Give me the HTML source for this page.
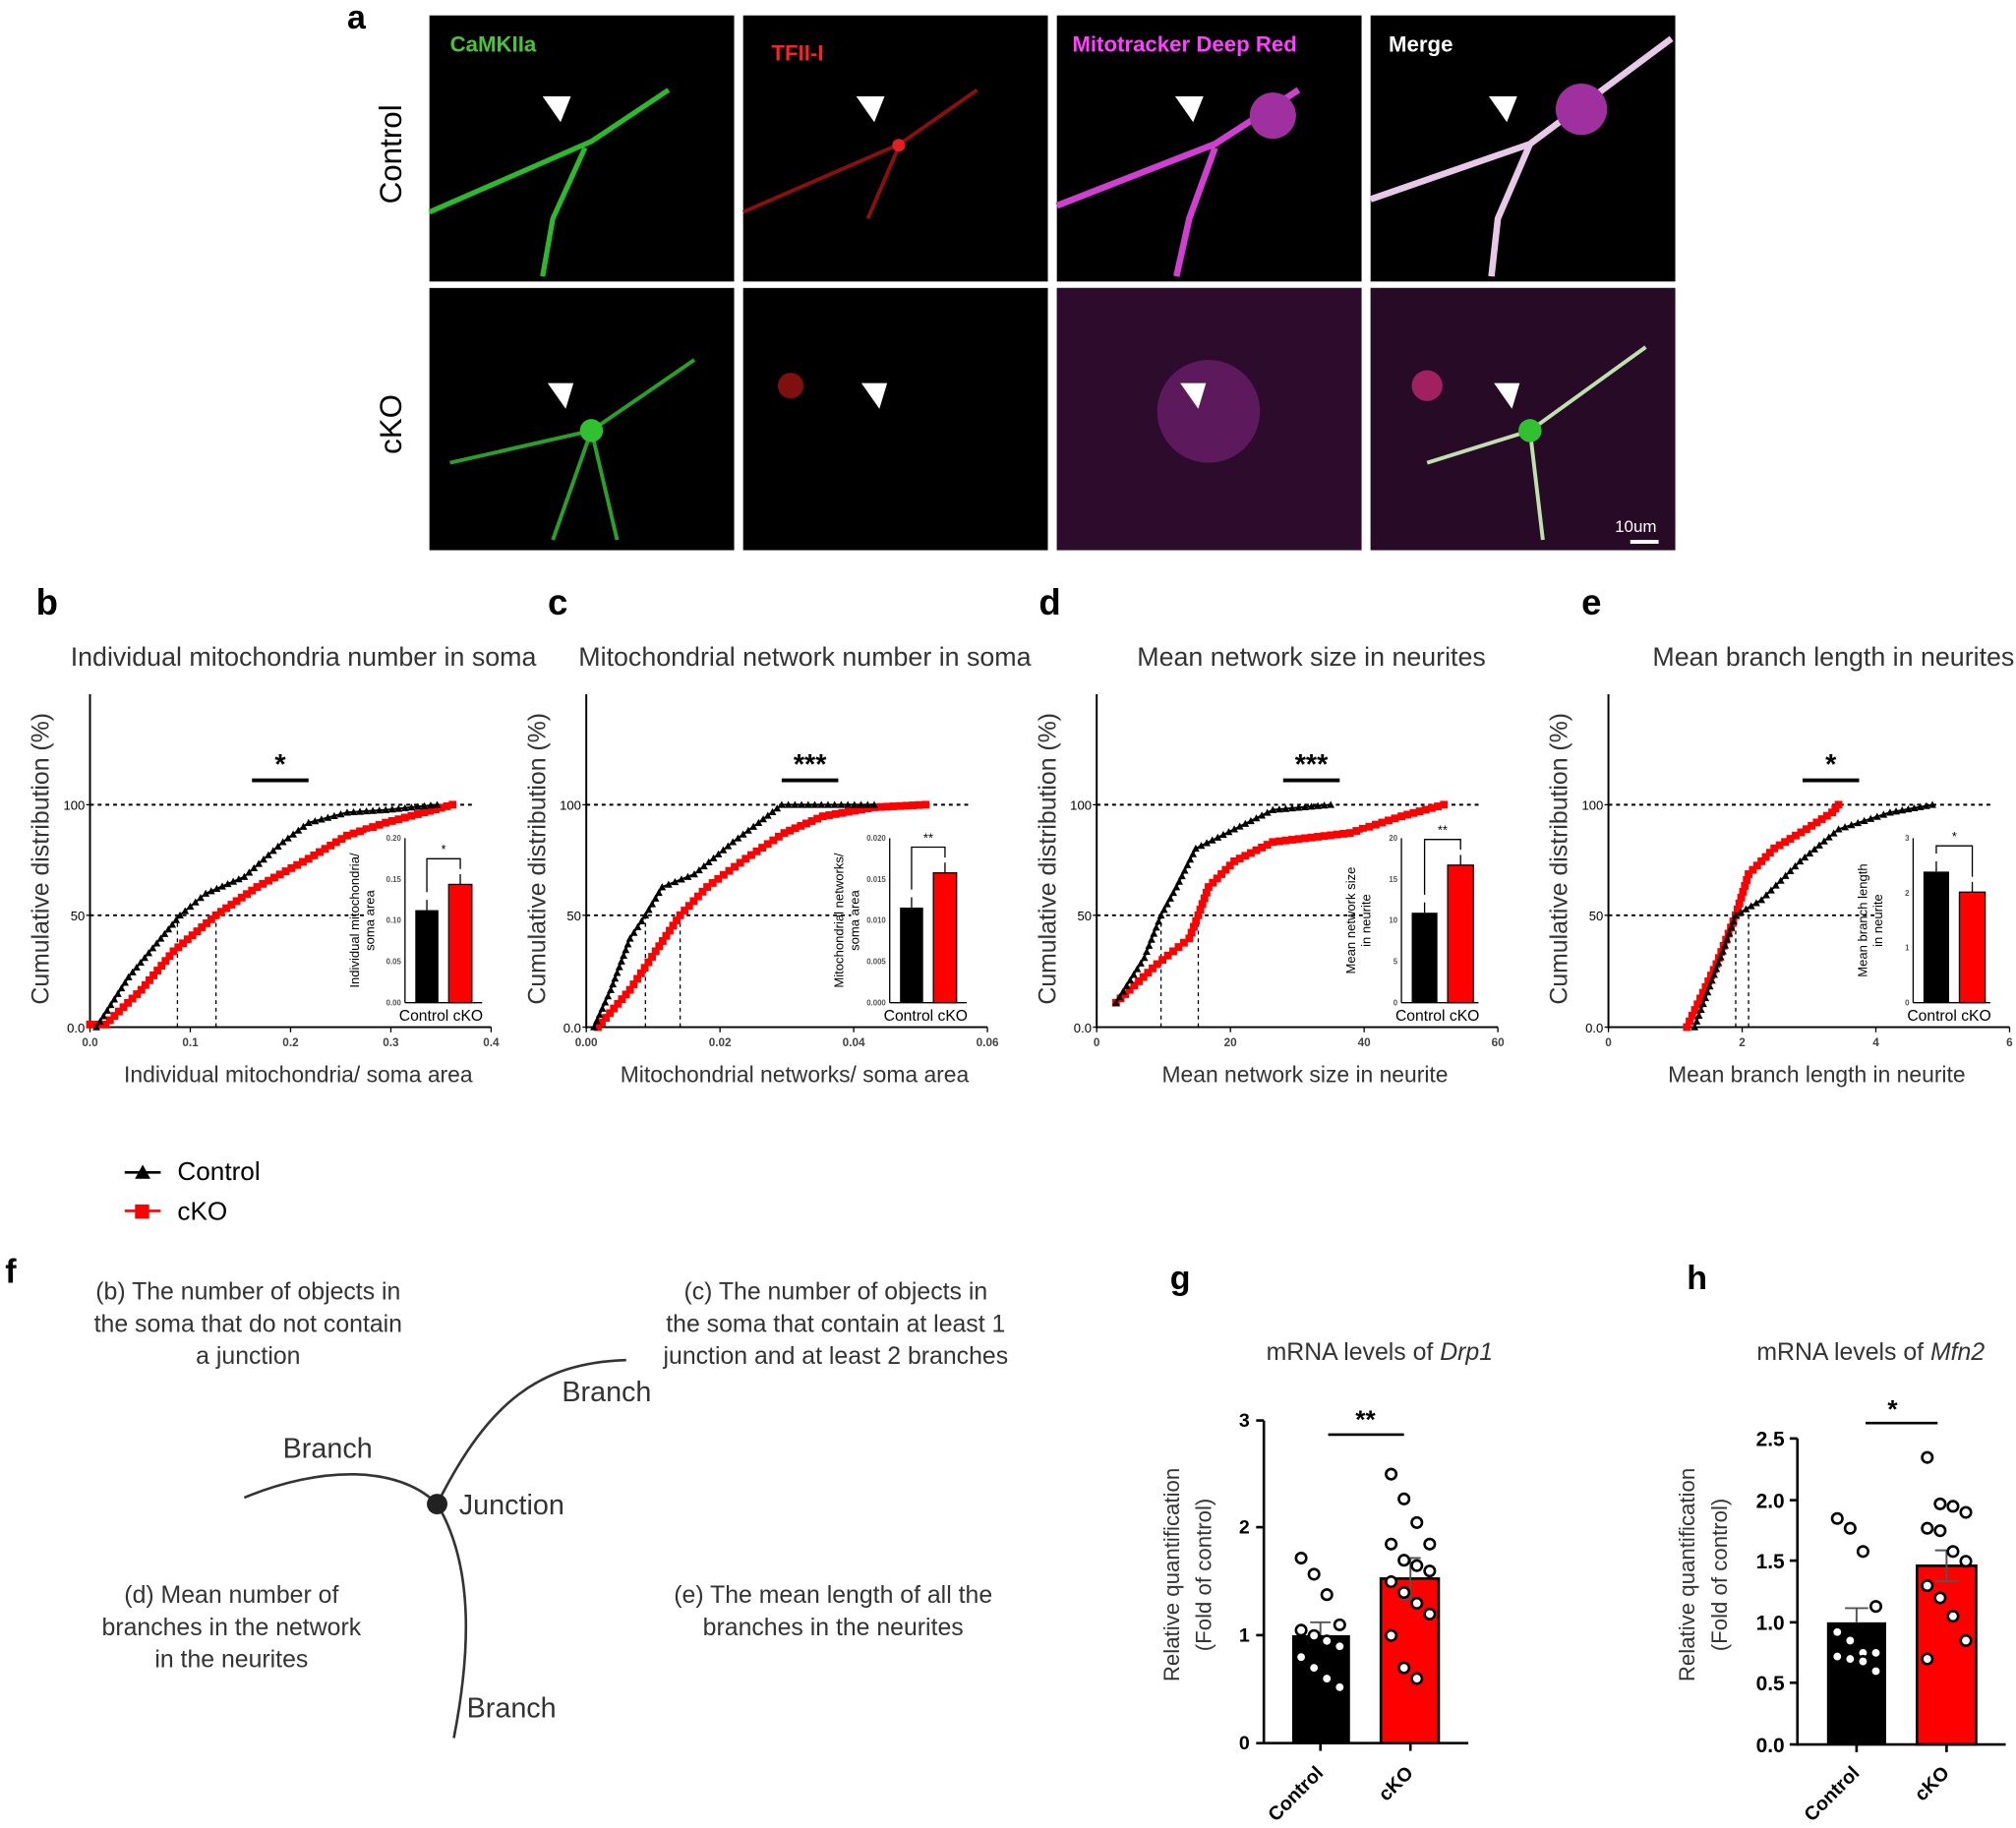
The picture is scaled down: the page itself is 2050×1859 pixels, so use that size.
<!DOCTYPE html>
<html><head><meta charset="utf-8"><style>
html,body{margin:0;padding:0;background:#fff;}
svg{display:block;}
text{font-family:"Liberation Sans",sans-serif;}
</style></head><body>
<svg id="s" width="2050" height="1859" viewBox="0 0 1568 1422" preserveAspectRatio="none" xmlns="http://www.w3.org/2000/svg">
<rect width="1568" height="1422" fill="#fff"/>
<!-- panel a -->
<text x="270" y="22" font-size="26" font-weight="bold">a</text>
<g>
<rect x="334" y="12" width="237" height="207" fill="#000"/>
<rect x="578" y="12" width="237" height="207" fill="#000"/>
<rect x="822" y="12" width="237" height="207" fill="#000"/>
<rect x="1066" y="12" width="237" height="207" fill="#000"/>
<rect x="334" y="224" width="237" height="204" fill="#000"/>
<rect x="578" y="224" width="237" height="204" fill="#000"/>
<rect x="822" y="224" width="237" height="204" fill="#000"/>
<rect x="1066" y="224" width="237" height="204" fill="#000"/>
<path d="M334,165 L460,110 L520,70 M455,115 L430,170 L422,215" stroke="#2db82d" stroke-width="4" fill="none"/>
<path d="M578,165 L700,112 L760,70 M700,112 L675,170" stroke="#8a1010" stroke-width="3" fill="none"/>
<circle cx="699" cy="113" r="5" fill="#e02020"/>
<path d="M822,160 L945,112 L1010,70 M945,115 L925,170 L915,215" stroke="#d040d0" stroke-width="5" fill="none"/>
<circle cx="990" cy="90" r="18" fill="#a030a0"/>
<path d="M1066,155 L1190,112 L1300,30 M1190,112 L1165,170 L1160,215" stroke="#e8c8e8" stroke-width="5" fill="none"/>
<circle cx="1230" cy="85" r="20" fill="#a030a0"/>
<path d="M350,360 L460,335 L540,280 M460,335 L480,420 M460,335 L430,420" stroke="#2aa02a" stroke-width="3" fill="none"/>
<circle cx="460" cy="335" r="9" fill="#30c030"/>
<circle cx="615" cy="300" r="10" fill="#801010"/>
<rect x="822" y="224" width="237" height="204" fill="#40103f" opacity="0.7"/>
<circle cx="940" cy="320" r="40" fill="#702070" opacity="0.7"/>
<rect x="1066" y="224" width="237" height="204" fill="#40103f" opacity="0.6"/>
<path d="M1110,360 L1190,335 L1280,270 M1190,335 L1200,420" stroke="#c0e0b0" stroke-width="3" fill="none"/>
<circle cx="1190" cy="335" r="9" fill="#30c030"/>
<circle cx="1110" cy="300" r="12" fill="#a02060"/>
</g>
<g fill="#fff">
<path d="M422,75 L444,75 L436,95 Z"/><path d="M666,75 L688,75 L680,95 Z"/><path d="M914,75 L936,75 L928,95 Z"/><path d="M1158,75 L1180,75 L1172,95 Z"/>
<path d="M426,298 L446,298 L440,318 Z"/><path d="M670,298 L690,298 L684,318 Z"/><path d="M918,298 L938,298 L932,318 Z"/><path d="M1162,298 L1182,298 L1176,318 Z"/>
</g>
<text x="350" y="40" font-size="17" font-weight="bold" fill="#4cc23a">CaMKIIa</text>
<text x="600" y="47" font-size="17" font-weight="bold" fill="#ff2020">TFII-I</text>
<text x="834" y="40" font-size="17" font-weight="bold" fill="#ff40ff">Mitotracker Deep Red</text>
<text x="1080" y="40" font-size="17" font-weight="bold" fill="#fff">Merge</text>
<text x="1256" y="414" font-size="13" fill="#fff">10um</text>
<rect x="1268" y="420" width="22" height="3" fill="#fff"/>
<text transform="translate(312,120) rotate(-90)" text-anchor="middle" font-size="24">Control</text>
<text transform="translate(312,330) rotate(-90)" text-anchor="middle" font-size="24">cKO</text>
<g id="charts"></g>
<line x1="97" y1="912" x2="125" y2="912" stroke="#000" stroke-width="2"/><path d="M105,917 L111,906 L117,917Z"/>
<text x="138" y="918" font-size="20">Control</text>
<line x1="97" y1="942" x2="125" y2="942" stroke="#f00" stroke-width="2"/><rect x="105" y="937" width="11" height="11" fill="#f00"/>
<text x="138" y="949" font-size="20">cKO</text>
<!-- panel f -->
<text x="4" y="998" font-size="26" font-weight="bold">f</text>
<g font-size="19" fill="#333" text-anchor="middle">
<text x="193" y="1011">(b) The number of objects in</text>
<text x="193" y="1036">the soma that do not contain</text>
<text x="193" y="1061">a junction</text>
<text x="650" y="1011">(c) The number of objects in</text>
<text x="650" y="1036">the soma that contain at least 1</text>
<text x="650" y="1061">junction and at least 2 branches</text>
<text x="180" y="1247">(d) Mean number of</text>
<text x="180" y="1272">branches in the network</text>
<text x="180" y="1297">in the neurites</text>
<text x="648" y="1247">(e) The mean length of all the</text>
<text x="648" y="1272">branches in the neurites</text>
</g>
<path d="M190,1165 C250,1140 310,1140 340,1170 C380,1090 420,1060 487,1058" stroke="#333" stroke-width="2" fill="none"/>
<path d="M340,1170 C370,1220 365,1290 353,1352" stroke="#333" stroke-width="2" fill="none"/>
<circle cx="340" cy="1170" r="8" fill="#222"/>
<g font-size="22" fill="#333"><text x="220" y="1134">Branch</text><text x="437" y="1090">Branch</text><text x="357" y="1178">Junction</text><text x="363" y="1336">Branch</text></g>
<!-- g -->
<text x="910" y="1003" font-size="26" font-weight="bold">g</text>
<text x="1073" y="1058" text-anchor="middle" font-size="19" fill="#333">mRNA levels of <tspan font-style="italic">Drp1</tspan></text>
<text transform="translate(917,1225) rotate(-90)" text-anchor="middle" font-size="17" fill="#333">Relative quantification</text>
<text transform="translate(942,1225) rotate(-90)" text-anchor="middle" font-size="17" fill="#333">(Fold of control)</text>
<g stroke="#000" stroke-width="2">
<line x1="983" y1="1105" x2="983" y2="1357"/><line x1="983" y1="1356" x2="1142" y2="1356"/>
<line x1="977" y1="1105" x2="983" y2="1105"/><line x1="977" y1="1188" x2="983" y2="1188"/><line x1="977" y1="1272" x2="983" y2="1272"/><line x1="977" y1="1356" x2="983" y2="1356"/>
<line x1="1027" y1="1356" x2="1027" y2="1362"/><line x1="1097" y1="1356" x2="1097" y2="1362"/>
<line x1="1033" y1="1116" x2="1092" y2="1116"/>
</g>
<g font-size="15" font-weight="bold" text-anchor="end"><text x="972" y="1110">3</text><text x="972" y="1193">2</text><text x="972" y="1277">1</text><text x="972" y="1361">0</text></g>
<text x="1062" y="1111" text-anchor="middle" font-size="20" font-weight="bold">**</text>
<rect x="1005" y="1272" width="45" height="84" fill="#000"/>
<rect x="1074" y="1228" width="45" height="128" fill="#f00" stroke="#000" stroke-width="2"/>
<g stroke="#555" stroke-width="1.5"><line x1="1027" y1="1272" x2="1027" y2="1262"/><line x1="1019" y1="1262" x2="1035" y2="1262"/><line x1="1097" y1="1228" x2="1097" y2="1212"/><line x1="1089" y1="1212" x2="1105" y2="1212"/><line x1="1097" y1="1228" x2="1097" y2="1244"/><line x1="1089" y1="1244" x2="1105" y2="1244"/></g>
<text transform="translate(1030,1380) rotate(-45)" text-anchor="end" font-size="15" font-weight="bold">Control</text>
<text transform="translate(1100,1380) rotate(-45)" text-anchor="end" font-size="15" font-weight="bold">cKO</text>
<!-- h -->
<text x="1312" y="1003" font-size="26" font-weight="bold">h</text>
<text x="1455" y="1058" text-anchor="middle" font-size="19" fill="#333">mRNA levels of <tspan font-style="italic">Mfn2</tspan></text>
<text transform="translate(1318,1225) rotate(-90)" text-anchor="middle" font-size="17" fill="#333">Relative quantification</text>
<text transform="translate(1343,1225) rotate(-90)" text-anchor="middle" font-size="17" fill="#333">(Fold of control)</text>
<g stroke="#000" stroke-width="2">
<line x1="1398" y1="1119" x2="1398" y2="1358"/><line x1="1398" y1="1357" x2="1560" y2="1357"/>
<line x1="1392" y1="1119" x2="1398" y2="1119"/><line x1="1392" y1="1167" x2="1398" y2="1167"/><line x1="1392" y1="1214" x2="1398" y2="1214"/><line x1="1392" y1="1262" x2="1398" y2="1262"/><line x1="1392" y1="1309" x2="1398" y2="1309"/><line x1="1392" y1="1357" x2="1398" y2="1357"/>
<line x1="1444" y1="1357" x2="1444" y2="1363"/><line x1="1514" y1="1357" x2="1514" y2="1363"/>
<line x1="1451" y1="1107" x2="1507" y2="1107"/>
</g>
<g font-size="16" font-weight="bold" text-anchor="end"><text x="1388" y="1125">2.5</text><text x="1388" y="1173">2.0</text><text x="1388" y="1220">1.5</text><text x="1388" y="1268">1.0</text><text x="1388" y="1315">0.5</text><text x="1388" y="1363">0.0</text></g>
<text x="1472" y="1103" text-anchor="middle" font-size="20" font-weight="bold">*</text>
<rect x="1421" y="1262" width="46" height="95" fill="#000"/>
<rect x="1491" y="1218" width="46" height="139" fill="#f00" stroke="#000" stroke-width="2"/>
<g stroke="#555" stroke-width="1.5"><line x1="1444" y1="1262" x2="1444" y2="1251"/><line x1="1435" y1="1251" x2="1453" y2="1251"/><line x1="1514" y1="1218" x2="1514" y2="1206"/><line x1="1505" y1="1206" x2="1523" y2="1206"/><line x1="1514" y1="1218" x2="1514" y2="1230"/><line x1="1505" y1="1230" x2="1523" y2="1230"/></g>
<text transform="translate(1447,1380) rotate(-45)" text-anchor="end" font-size="15" font-weight="bold">Control</text>
<text transform="translate(1517,1380) rotate(-45)" text-anchor="end" font-size="15" font-weight="bold">cKO</text>
<g id="dots" fill="#fff" stroke="#000" stroke-width="2"></g>
</svg>
<script>
var NS="http://www.w3.org/2000/svg";
function el(p,t,a,txt){var e=document.createElementNS(NS,t);for(var k in a)e.setAttribute(k,a[k]);if(txt!==undefined)e.textContent=txt;p.appendChild(e);return e;}
var C=document.getElementById("charts");
var panels=[
{L:"b",lx:28,ax:70,title:"Individual mitochondria number in soma",tx:236,xl:"Individual mitochondria/ soma area",ticks:["0.0","0.1","0.2","0.3","0.4"],d1:138,d2:168,sig:"*",sx:218,
 c:[[75,799],[100,760],[125,730],[140,712],[160,695],[190,682],[220,655],[240,640],[270,632],[300,630],[340,626]],
 k:[[70,797],[82,797],[110,770],[135,740],[168,712],[200,690],[240,668],[270,650],[300,640],[330,632],[352,626]],
 inset:{x:315,bw:18,b1:708,b2:688,yl:["Individual mitochondria/","soma area"],yt:["0.20","0.15","0.10","0.05","0.00"],s:"*"}},
{L:"c",lx:426,ax:456,title:"Mitochondrial network number in soma",tx:626,xl:"Mitochondrial networks/ soma area",ticks:["0.00","0.02","0.04","0.06"],d1:502,d2:529,sig:"***",sx:630,
 c:[[462,799],[475,770],[490,730],[502,712],[515,690],[540,680],[570,655],[590,640],[608,626],[680,626]],
 k:[[465,799],[490,770],[510,740],[529,712],[550,690],[580,668],[610,648],[640,635],[680,628],[720,626]],
 inset:{x:692,bw:18,b1:706,b2:679,yl:["Mitochondrial networks/","soma area"],yt:["0.020","0.015","0.010","0.005","0.000"],s:"**"}},
{L:"d",lx:808,ax:853,title:"Mean network size in neurites",tx:1020,xl:"Mean network size in neurite",ticks:["0","20","40","60"],d1:903,d2:932,sig:"***",sx:1020,
 c:[[868,780],[890,745],[903,712],[915,690],[930,660],[960,645],[990,630],[1035,626]],
 k:[[868,780],[900,750],[925,730],[932,712],[940,690],[960,670],[990,655],[1050,648],[1090,635],[1123,626]],
 inset:{x:1090,bw:20,b1:710,b2:673,yl:["Mean network size","in neurite"],yt:["20","15","10","5","0"],s:"**"}},
{L:"e",lx:1230,ax:1251,title:"Mean branch length in neurites",tx:1426,xl:"Mean branch length in neurite",ticks:["0","2","4","6"],d1:1350,d2:1360,sig:"*",sx:1424,
 c:[[1318,799],[1340,740],[1350,712],[1370,700],[1400,670],[1430,645],[1470,632],[1503,626]],
 k:[[1312,799],[1335,750],[1350,712],[1360,680],[1380,660],[1405,645],[1425,632],[1430,626]],
 inset:{x:1488,bw:20,b1:678,b2:694,yl:["Mean branch length","in neurite"],yt:["3","2","1","0"],s:"*"}}];
function resample(pts,step){var o=[];for(var i=0;i<pts.length-1;i++){var a=pts[i],b=pts[i+1],d=Math.hypot(b[0]-a[0],b[1]-a[1]),n=Math.max(1,Math.round(d/step));for(var j=0;j<n;j++)o.push([a[0]+(b[0]-a[0])*j/n,a[1]+(b[1]-a[1])*j/n]);}o.push(pts[pts.length-1]);return o;}
panels.forEach(function(p){
 var g=el(C,"g",{});
 el(g,"text",{x:p.lx,y:478,"font-size":28,"font-weight":"bold"},p.L);
 el(g,"text",{x:p.tx,y:518,"text-anchor":"middle","font-size":20.5,fill:"#333"},p.title);
 var ax=p.ax,ex=ax+312;
 el(g,"line",{x1:ax,y1:540,x2:ax,y2:800,stroke:"#000","stroke-width":1.5});
 el(g,"line",{x1:ax,y1:799,x2:ex,y2:799,stroke:"#000","stroke-width":1.5});
 el(g,"text",{transform:"translate("+(ax-32)+",668) rotate(-90)","text-anchor":"middle","font-size":19,fill:"#333"},"Cumulative distribution (%)");
 [["100",626],["50",712],["0.0",799]].forEach(function(t){el(g,"text",{x:ax-4,y:t[1]+4,"text-anchor":"end","font-size":10},t[0]);el(g,"line",{x1:ax-3,y1:t[1],x2:ax,y2:t[1],stroke:"#000"});});
 var n=p.ticks.length;p.ticks.forEach(function(t,i){var x=ax+312*i/(n-1);el(g,"text",{x:x,y:814,"text-anchor":"middle","font-size":9,"font-weight":"bold",fill:"#444"},t);el(g,"line",{x1:x,y1:799,x2:x,y2:803,stroke:"#000"});});
 el(g,"text",{x:ax+162,y:842,"text-anchor":"middle","font-size":17.5,fill:"#333"},p.xl);
 el(g,"line",{x1:ax,y1:626,x2:ex-12,y2:626,stroke:"#000","stroke-width":1.5,"stroke-dasharray":"3,3"});
 el(g,"line",{x1:ax,y1:712,x2:ax+240,y2:712,stroke:"#000","stroke-width":1.5,"stroke-dasharray":"3,3"});
 el(g,"line",{x1:p.d1,y1:712,x2:p.d1,y2:799,stroke:"#000","stroke-dasharray":"3,3"});
 el(g,"line",{x1:p.d2,y1:712,x2:p.d2,y2:799,stroke:"#000","stroke-dasharray":"3,3"});
 el(g,"line",{x1:p.sx-22,y1:607,x2:p.sx+22,y2:607,stroke:"#000","stroke-width":3});
 el(g,"text",{x:p.sx,y:602,"text-anchor":"middle","font-size":22,"font-weight":"bold"},p.sig);
 var kp=p.k.map(function(q){return q.join(",")}).join(" ");
 el(g,"polyline",{points:kp,fill:"none",stroke:"#f00","stroke-width":1.5});
 resample(p.k,5).forEach(function(q){el(g,"rect",{x:q[0]-3,y:q[1]-3,width:6,height:6,fill:"#f00"});});
 var cp=p.c.map(function(q){return q.join(",")}).join(" ");
 el(g,"polyline",{points:cp,fill:"none",stroke:"#000","stroke-width":1.5});
 resample(p.c,5).forEach(function(q){el(g,"path",{d:"M"+(q[0]-3)+","+(q[1]+2.5)+" L"+q[0]+","+(q[1]-3)+" L"+(q[0]+3)+","+(q[1]+2.5)+"Z",fill:"#000"});});
 var I=p.inset,ix=I.x,top=652,bot=780;
 el(g,"rect",{x:ix-30,y:top-5,width:90,height:150,fill:"#fff"});
 el(g,"line",{x1:ix,y1:top,x2:ix,y2:bot,stroke:"#000"});
 el(g,"line",{x1:ix,y1:bot,x2:ix+60,y2:bot,stroke:"#000"});
 var m=I.yt.length;I.yt.forEach(function(t,i){var y=top+(bot-top)*i/(m-1);el(g,"text",{x:ix-3,y:y+2,"text-anchor":"end","font-size":6,"font-weight":"bold",fill:"#555"},t);});
 var x1=ix+8,x2=ix+8+I.bw+8;
 el(g,"rect",{x:x1,y:I.b1,width:I.bw,height:bot-I.b1,fill:"#000"});
 el(g,"rect",{x:x2,y:I.b2,width:I.bw,height:bot-I.b2,fill:"#f00",stroke:"#000"});
 el(g,"line",{x1:x1+I.bw/2,y1:I.b1-8,x2:x1+I.bw/2,y2:I.b1,stroke:"#000"});
 el(g,"line",{x1:x2+I.bw/2,y1:I.b2-8,x2:x2+I.bw/2,y2:I.b2,stroke:"#000"});
 var by=Math.min(I.b1,I.b2)-20;
 el(g,"path",{d:"M"+(x1+I.bw/2)+","+(I.b1-14)+" V"+by+" H"+(x2+I.bw/2)+" V"+(I.b2-12),fill:"none",stroke:"#000"});
 el(g,"text",{x:(x1+x2+I.bw)/2,y:by-4,"text-anchor":"middle","font-size":10},I.s);
 el(g,"text",{x:ix+28,y:794,"text-anchor":"middle","font-size":12},"Control cKO");
 el(g,"text",{transform:"translate("+(ix-36)+",716) rotate(-90)","text-anchor":"middle","font-size":10},I.yl[0]);
 el(g,"text",{transform:"translate("+(ix-24)+",716) rotate(-90)","text-anchor":"middle","font-size":10},I.yl[1]);
});
var D=document.getElementById("dots");
function dots(cx,arr,y0,sc){arr.forEach(function(v,i){var off=((i%4)-1.5)*10;el(D,"circle",{cx:cx+off,cy:y0-v*sc,r:4});});}
dots(1027,[1.72,1.57,1.38,1.1,1.05,1.0,0.95,0.9,0.8,0.7,0.6,0.52],1356,83.7);
dots(1097,[2.5,2.27,2.05,1.85,1.85,1.7,1.65,1.6,1.5,1.4,1.3,1.2,1.0,0.7,0.6],1356,83.7);
dots(1444,[1.85,1.77,1.58,1.13,0.92,0.85,0.75,0.75,0.72,0.7,0.68,0.6],1357,95);
dots(1514,[2.35,1.97,1.95,1.9,1.77,1.75,1.58,1.5,1.3,1.2,1.05,0.85,0.7],1357,95);
</script>
</body></html>
